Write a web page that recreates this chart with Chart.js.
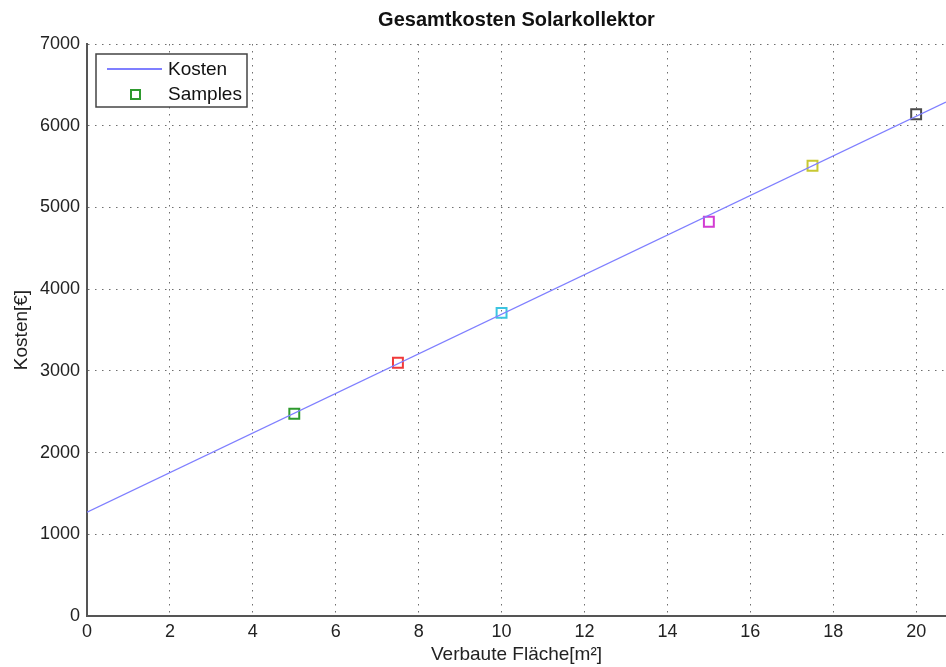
<!DOCTYPE html>
<html>
<head>
<meta charset="utf-8">
<script src="https://cdn.jsdelivr.net/npm/chart.js@4"></script>
<style>
  html, body { margin: 0; padding: 0; background: #fff; }
  #wrap { width: 946px; height: 667px; }
</style>
</head>
<body>
<div id="wrap"><canvas id="chart"></canvas></div>
<script>
// fitted cost line (Kosten)
const lineX = [0, 20.72];
const lineY = [1270, 6290];

// measured samples
const sampleX = [5, 7.5, 10, 15, 17.5, 20];
const sampleY = [2475, 3100, 3710, 4825, 5510, 6140];
const sampleColors = ['#2e9a2e', '#f03a3a', '#3cc4e0', '#d23cd2', '#c8c832', '#4a4a4a'];

const xTicks = [0, 2, 4, 6, 8, 10, 12, 14, 16, 18, 20];
const yTicks = [0, 1000, 2000, 3000, 4000, 5000, 6000, 7000];

const FONT = 'Arial, "Liberation Sans", sans-serif';
const gridColor = '#6e6e6e';

// legend box inside the plot, MATLAB style
const legendBox = {
  id: 'legendBox',
  afterDraw(chart) {
    const ctx = chart.ctx;
    const a = chart.chartArea;
    const x = a.left + 9, y = a.top + 10, w = 151, h = 53;
    ctx.save();
    ctx.fillStyle = '#fff';
    ctx.fillRect(x, y, w, h);
    ctx.strokeStyle = '#444';
    ctx.lineWidth = 1.5;
    ctx.strokeRect(x, y, w, h);

    const ds = chart.data.datasets;
    // line entry
    ctx.strokeStyle = ds[0].borderColor;
    ctx.lineWidth = 2;
    ctx.beginPath();
    ctx.moveTo(x + 11, y + 15);
    ctx.lineTo(x + 66, y + 15);
    ctx.stroke();
    // marker entry
    ctx.strokeStyle = sampleColors[0];
    ctx.lineWidth = 2;
    ctx.strokeRect(x + 35, y + 36, 9, 9);

    ctx.fillStyle = '#111';
    ctx.font = '19px ' + FONT;
    ctx.textBaseline = 'middle';
    ctx.fillText(ds[0].label, x + 72, y + 16);
    ctx.fillText(ds[1].label, x + 72, y + 41);
    ctx.restore();
  }
};

new Chart(document.getElementById('chart'), {
  type: 'scatter',
  data: {
    datasets: [
      {
        type: 'line',
        label: 'Kosten',
        data: lineX.map((x, i) => ({ x: x, y: lineY[i] })),
        borderColor: '#7f7fff',
        borderWidth: 1.4,
        pointRadius: 0,
        fill: false
      },
      {
        label: 'Samples',
        data: sampleX.map((x, i) => ({ x: x, y: sampleY[i] })),
        showLine: false,
        pointStyle: 'rect',
        pointRadius: 7,
        pointBorderWidth: 2,
        pointBackgroundColor: 'rgba(0,0,0,0)',
        pointBorderColor: sampleColors
      }
    ]
  },
  options: {
    responsive: true,
    maintainAspectRatio: false,
    animation: false,
    layout: { padding: 0, autoPadding: false },
    plugins: {
      legend: { display: false },
      tooltip: { enabled: false },
      title: {
        display: true,
        fullSize: false,
        text: 'Gesamtkosten Solarkollektor',
        color: '#111',
        font: { family: FONT, size: 20, weight: 'bold' },
        padding: { top: 8, bottom: 12 }
      }
    },
    scales: {
      x: {
        type: 'linear',
        min: 0,
        max: 20.72,
        afterBuildTicks: s => { s.ticks = xTicks.map(v => ({ value: v })); },
        afterFit: s => { s.height = 51; s.paddingRight = 0; s.paddingLeft = 0; },
        ticks: {
          color: '#222',
          font: { family: FONT, size: 18 },
          padding: 5,
          maxRotation: 0,
          callback: v => String(v)
        },
        grid: { color: gridColor, lineWidth: 1, drawTicks: false },
        border: { display: true, color: '#555', width: 2, dash: [1.5, 5.5] },
        title: {
          display: true,
          text: 'Verbaute Fläche[m²]',
          color: '#222',
          font: { family: FONT, size: 19 },
          padding: { top: 1, bottom: 0.5 }
        }
      },
      y: {
        type: 'linear',
        min: 0,
        max: 7000,
        afterBuildTicks: s => { s.ticks = yTicks.map(v => ({ value: v })); },
        afterFit: s => { s.width = 87; s.paddingTop = 0; s.paddingBottom = 0; },
        ticks: {
          color: '#222',
          font: { family: FONT, size: 18 },
          padding: 7,
          callback: v => String(v)
        },
        grid: { color: gridColor, lineWidth: 1, drawTicks: false },
        border: { display: true, color: '#555', width: 2, dash: [1.5, 5.5] },
        title: {
          display: true,
          text: 'Kosten[€]',
          color: '#222',
          font: { family: FONT, size: 19 },
          padding: { top: 10, bottom: 4 }
        }
      }
    }
  },
  plugins: [legendBox]
});
</script>
</body>
</html>
